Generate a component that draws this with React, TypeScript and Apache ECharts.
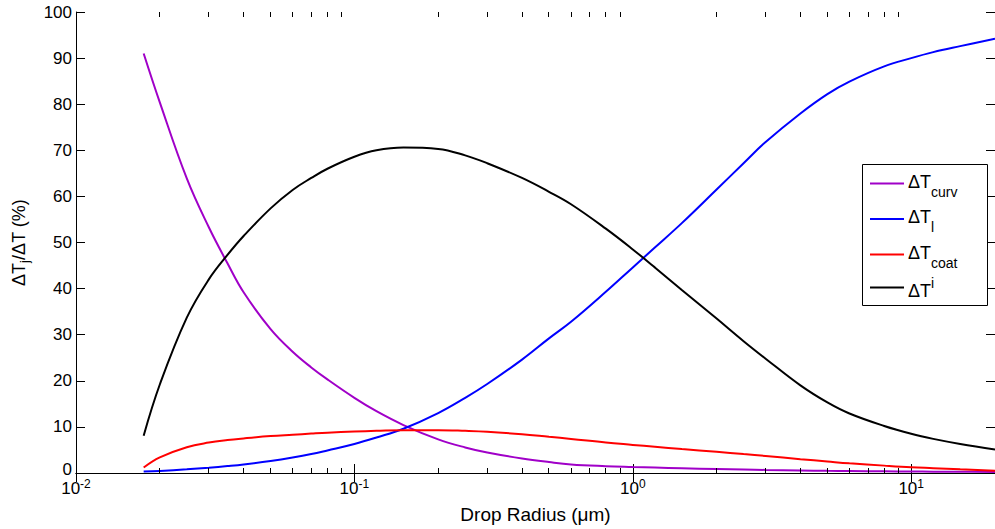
import React, { useEffect, useRef } from 'react';
import * as echarts from 'echarts';

// Drop radius (µm) sample points
const radius = [0.0175, 0.02, 0.025, 0.03, 0.035, 0.04, 0.05, 0.06, 0.07, 0.08, 0.1, 0.12, 0.15, 0.2, 0.25, 0.3, 0.4, 0.5, 0.6, 0.8, 1.0, 1.2, 1.5, 2, 2.5, 3, 4, 5, 6, 8, 10, 12, 15, 20];
// ΔT_j / ΔT (%)
const dTcurv = [91.0, 80.4, 63.9, 53.3, 45.5, 39.2, 31.2, 26.3, 22.9, 20.3, 16.3, 13.4, 10.4, 7.3, 5.55, 4.45, 3.15, 2.37, 1.85, 1.48, 1.3, 1.17, 1.02, 0.87, 0.76, 0.67, 0.56, 0.47, 0.42, 0.36, 0.32, 0.29, 0.26, 0.22];
const dTl = [0.3, 0.45, 0.8, 1.15, 1.5, 1.85, 2.6, 3.35, 4.1, 4.9, 6.3, 7.7, 9.6, 13.0, 16.3, 19.3, 24.6, 29.2, 32.8, 39.3, 44.6, 48.9, 54.2, 61.5, 67.2, 71.8, 78.0, 82.2, 84.9, 88.2, 90.0, 91.3, 92.6, 94.2];
const dTcoat = [1.2, 3.4, 5.6, 6.6, 7.15, 7.5, 8.0, 8.3, 8.55, 8.75, 9.0, 9.15, 9.3, 9.3, 9.15, 8.95, 8.4, 7.85, 7.4, 6.6, 6.1, 5.7, 5.2, 4.6, 4.1, 3.7, 3.0, 2.5, 2.1, 1.6, 1.25, 1.05, 0.8, 0.5];
const dTi = [8.1, 19.2, 33.7, 42.0, 47.3, 51.4, 57.4, 61.4, 64.0, 66.0, 68.6, 70.0, 70.6, 70.3, 68.9, 67.2, 64.0, 61.0, 58.3, 53.0, 48.5, 44.6, 39.7, 33.5, 28.6, 24.8, 19.0, 15.3, 12.9, 10.2, 8.5, 7.4, 6.3, 5.1];

// Axis ticks
const xMin = 0.01;
const xMax = 20;
const minorTicks = [0.02, 0.03, 0.04, 0.05, 0.06, 0.07, 0.08, 0.09, 0.2, 0.3, 0.4, 0.5, 0.6, 0.7, 0.8, 0.9, 2, 3, 4, 5, 6, 7, 8, 9];
const yMin = 0;
const yMax = 100;
const yInterval = 10;

// Legend entries: main text + subscript / superscript
const seriesNames = ['ΔTcurv', 'ΔTl', 'ΔTcoat', 'ΔTi'];
const legendMain = ['ΔT', 'ΔT', 'ΔT', 'ΔT'];
const legendIndex = ['curv', 'l', 'coat', 'i'];
const legendIsSup = [false, false, false, true];
const seriesValues = [dTcurv, dTl, dTcoat, dTi];
const seriesColors = ['#a000c8', '#0000ff', '#ff0000', '#000000'];

const FONT = '"Liberation Sans", Arial, Helvetica, sans-serif';

export default function App() {
  const ref = useRef<HTMLDivElement>(null);
  useEffect(() => {
    if (!ref.current) return;
    const chart = echarts.init(ref.current, null, { renderer: 'svg' });
    const axisLineStyle = { color: '#000', width: 1 };
    const xLabelFormatter = (v: number) => {
      const e = Math.log10(v);
      const r = Math.round(e);
      if (Math.abs(e - r) > 1e-6) return '';
      return `{b|10}{e|${r}}`;
    };
    const yLabelFormatter = (v: number) => (v === yMin ? `{z|${v}}` : `${v}`);

    // manual legend (box, line samples, texts with sub/superscripts)
    const lgX = 862.5, lgY = 164.5, lgW = 125, lgH = 141;
    const rowY = [183.5, 219, 254.5, 287.5];
    const legendEls: any[] = [
      {
        type: 'rect', silent: true, z: 10,
        shape: { x: lgX, y: lgY, width: lgW, height: lgH },
        style: { fill: '#ffffff', stroke: '#000', lineWidth: 1 },
      },
    ];
    seriesNames.forEach((_, k) => {
      const y = rowY[k];
      legendEls.push({
        type: 'line', silent: true, z: 11,
        shape: { x1: 870, y1: y, x2: 904, y2: y },
        style: { stroke: seriesColors[k], lineWidth: 2 },
      });
      legendEls.push({
        type: 'text', silent: true, z: 11,
        x: 908, y: legendIsSup[k] ? y + 3 : y - 2,
        style: { text: legendMain[k], fontSize: 18, fontFamily: FONT, fill: '#000', verticalAlign: 'middle' },
      });
      legendEls.push({
        type: 'text', silent: true, z: 11,
        x: 931, y: legendIsSup[k] ? y - 4.5 : y + 8,
        style: { text: legendIndex[k], fontSize: 14, fontFamily: FONT, fill: '#000', verticalAlign: 'middle' },
      });
    });

    const option: any = {
      animation: false,
      backgroundColor: '#ffffff',
      textStyle: { fontFamily: FONT },
      grid: { left: 76, right: -4, top: 12, bottom: 55 },
      xAxis: [
        {
          type: 'log', logBase: 10, min: xMin, max: xMax, position: 'bottom',
          name: 'Drop Radius (μm)', nameLocation: 'middle', nameGap: 32,
          nameTextStyle: { fontSize: 19, color: '#000', fontFamily: FONT },
          axisLine: { show: true, lineStyle: axisLineStyle },
          axisTick: { show: true, inside: true, length: 9, lineStyle: axisLineStyle },
          axisLabel: {
            show: true, margin: 8, formatter: xLabelFormatter, color: '#000',
            showMaxLabel: false,
            rich: {
              b: { fontSize: 17, lineHeight: 14, color: '#000', fontFamily: FONT },
              e: { fontSize: 12, lineHeight: 14, color: '#000', fontFamily: FONT, padding: [0, 0, 9, 0] },
            },
          },
          splitLine: { show: false },
        },
        {
          type: 'log', logBase: 10, min: xMin, max: xMax, position: 'top',
          axisLine: { show: true, lineStyle: axisLineStyle },
          axisTick: { show: true, inside: true, length: 9, lineStyle: axisLineStyle },
          axisLabel: { show: false },
          splitLine: { show: false },
        },
      ],
      yAxis: [
        {
          type: 'value', min: yMin, max: yMax, interval: yInterval, position: 'left',
          name: '{b|ΔT}{sub|j}{b|/ΔT (%)}', nameLocation: 'middle', nameGap: 45,
          nameTextStyle: {
            color: '#000', fontFamily: FONT,
            rich: {
              b: { fontSize: 18, color: '#000', fontFamily: FONT },
              sub: { fontSize: 13, color: '#000', fontFamily: FONT, padding: [12, 0, 0, 0] },
            },
          },
          axisLine: { show: true, lineStyle: axisLineStyle },
          axisTick: { show: true, inside: true, length: 9, lineStyle: axisLineStyle },
          axisLabel: {
            show: true, margin: 4, fontSize: 17, lineHeight: 13, color: '#000', fontFamily: FONT,
            formatter: yLabelFormatter,
            rich: { z: { fontSize: 17, lineHeight: 13, color: '#000', fontFamily: FONT, padding: [0, 0, 8, 0] } },
          },
          splitLine: { show: false },
        },
        {
          type: 'value', min: yMin, max: yMax, interval: yInterval, position: 'right',
          axisLine: { show: true, lineStyle: axisLineStyle },
          axisTick: { show: true, inside: true, length: 9, lineStyle: axisLineStyle },
          axisLabel: { show: false },
          splitLine: { show: false },
        },
      ],
      graphic: legendEls,
      series: [
        ...seriesNames.map((name, k) => ({
          name, type: 'line', xAxisIndex: 0, yAxisIndex: 0,
          data: radius.map((r, i) => [r, seriesValues[k][i]]),
          showSymbol: false, symbol: 'none', smooth: 0.4,
          lineStyle: { width: 2, color: seriesColors[k] },
          itemStyle: { color: seriesColors[k] },
          z: 3,
        })),
        {
          type: 'custom', silent: true, xAxisIndex: 0, yAxisIndex: 0, z: 4,
          data: minorTicks.map((v) => [v, 0]),
          renderItem: (params: any, api: any) => {
            const p = api.coord([api.value(0), 0]);
            const cs = params.coordSys;
            const x = Math.round(p[0] - 0.5) + 0.5;
            const yb = cs.y + cs.height;
            const yt = cs.y;
            return {
              type: 'group',
              children: [
                { type: 'line', shape: { x1: x, y1: yb, x2: x, y2: yb - 5 }, style: { stroke: '#000', lineWidth: 1 } },
                { type: 'line', shape: { x1: x, y1: yt, x2: x, y2: yt + 5 }, style: { stroke: '#000', lineWidth: 1 } },
              ],
            };
          },
        },
      ],
    };
    chart.setOption(option);
    return () => chart.dispose();
  }, []);
  return (
    <div
      ref={ref}
      style={{ position: 'absolute', left: 0, top: 0, width: 995, height: 529, background: '#fff' }}
    />
  );
}
